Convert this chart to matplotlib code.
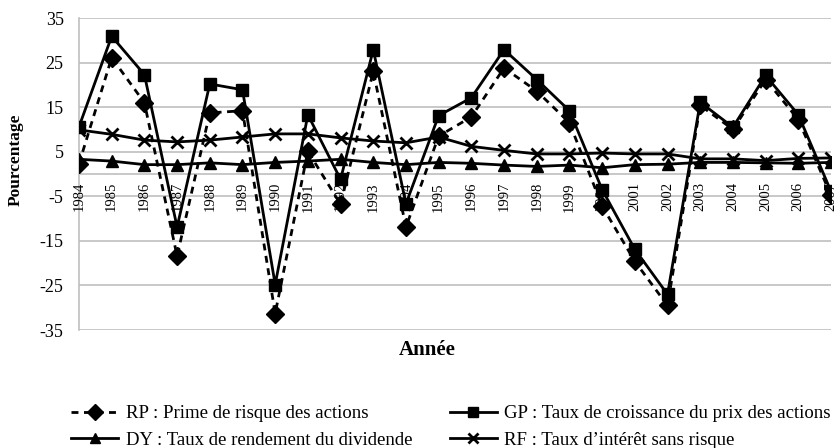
import numpy as np
import matplotlib
matplotlib.use('Agg')
import matplotlib.pyplot as plt

plt.rcParams['font.family'] = ['Liberation Serif', 'DejaVu Serif']
plt.rcParams['axes.unicode_minus'] = False

years = list(range(1984, 2008))
rp = [2.3, 26.1, 16.0, -18.4, 13.7, 14.2, -31.3, 5.1, -6.8, 23.0, -11.9, 8.5,
      12.8, 23.8, 18.6, 11.5, -7.2, -19.6, -29.5, 15.4, 10.0, 21.2, 12.2, -4.8]
gp = [10.6, 30.9, 22.3, -11.9, 20.2, 18.9, -24.8, 13.3, -1.2, 27.9, -6.7, 13.1,
      17.1, 27.9, 21.2, 14.2, -3.5, -16.9, -27.0, 16.1, 10.5, 22.1, 13.3, -3.9]
dy = [3.3, 2.9, 2.1, 2.1, 2.5, 2.1, 2.6, 2.9, 3.3, 2.6, 2.1, 2.6,
      2.4, 2.0, 1.7, 2.0, 1.4, 2.1, 2.2, 2.6, 2.6, 2.5, 2.4, 2.6]
rf = [9.9, 8.9, 7.6, 7.2, 7.6, 8.3, 9.0, 9.0, 8.1, 7.4, 7.0, 8.3,
      6.2, 5.3, 4.5, 4.5, 4.7, 4.5, 4.5, 3.4, 3.4, 3.0, 3.5, 3.6]
yticks = [35, 25, 15, 5, -5, -15, -25, -35]

fig = plt.figure(figsize=(8.36, 4.48), dpi=100)
ax = fig.add_axes([79/836, 1-330/448, 752/836, 312/448])

grey = '#bfbfbf'
for v in yticks:
    ax.axhline(v, color=grey, lw=1.2, zorder=0)
ax.axhline(0, color=grey, lw=1.2, zorder=0)

l_rp, = ax.plot(years, rp, color='black', ls=(0, (2.5, 2)), lw=2, marker='D', ms=9, label='RP : Prime de risque des actions', zorder=3)
l_gp, = ax.plot(years, gp, color='black', ls='-', lw=2, marker='s', ms=9, label='GP : Taux de croissance du prix des actions', zorder=4)
l_dy, = ax.plot(years, dy, color='black', ls='-', lw=2, marker='^', ms=9, label='DY : Taux de rendement du dividende', zorder=3)
l_rf, = ax.plot(years, rf, color='black', ls='-', lw=2, marker='x', ms=9, mew=2, label="RF : Taux d\u2019intérêt sans risque", zorder=3)

ax.set_xlim(1984, 2007)
ax.set_ylim(-35, 35)
ax.set_yticks(yticks)
ax.set_yticklabels([str(v) for v in yticks], fontsize=13)
ax.set_xticks([])
for yr in years:
    ax.text(yr, -1.8, str(yr), rotation=90, ha='center', va='top', fontsize=10.5, zorder=5)

for s in ['top', 'right', 'bottom']:
    ax.spines[s].set_visible(False)
ax.spines['left'].set_color(grey)
ax.spines['left'].set_linewidth(1.2)
ax.tick_params(axis='y', length=0, pad=11)

fig.text(16/836, 1-160/448, 'Pourcentage', rotation=90, ha='center', va='center', fontsize=12.5, fontweight='bold')
fig.text(427/836, 1-350/448, 'Année', ha='center', va='center', fontsize=15, fontweight='bold')

fig.legend([l_rp, l_dy, l_gp, l_rf], [l.get_label() for l in [l_rp, l_dy, l_gp, l_rf]],
           ncol=2, loc='center', bbox_to_anchor=(451/836, 1-427/448), frameon=False,
           fontsize=13.5, handlelength=2.5, columnspacing=2.0, labelspacing=0.5, handletextpad=0.4,
           borderpad=0, markerscale=0.85)

fig.savefig('out.png', dpi=100)
